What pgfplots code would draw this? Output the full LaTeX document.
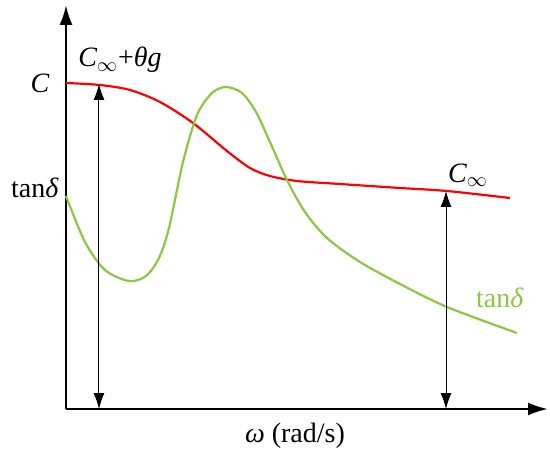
\documentclass[border=0pt]{standalone}
\usepackage{fontspec}
\setmainfont{Liberation Serif}
\usepackage{pgfplots}
\pgfplotsset{compat=1.18}
\usetikzlibrary{arrows.meta}

\definecolor{cred}{RGB}{255,0,0}
\definecolor{cgreen}{RGB}{140,200,64}

\begin{document}
\begin{tikzpicture}
\begin{axis}[
  scale only axis,
  width=241pt, height=202pt,
  xmin=66, xmax=548,
  ymin=41, ymax=445,
  enlargelimits=false,
  axis lines=left,
  ticks=none,
  clip=false,
  axis line style={line width=1.2pt},
  every outer x axis line/.append style={-{Latex[length=10pt,width=6.5pt]}},
  every outer y axis line/.append style={-{Latex[length=10pt,width=6.5pt]}},
  font=\fontsize{14}{16}\selectfont,
]
  % C(omega)
  \addplot[cred, line width=1.1pt, smooth] coordinates {
    (66,367) (100,365) (130,360) (160,348) (193,327) (227,299)
    (250,282) (270,274) (297,269) (340,266) (400,262) (447,259)
    (510,252)
  };
  % tan delta
  \addplot[cgreen, line width=1.1pt, smooth] coordinates {
    (66,254) (85,208) (105,180) (129,169) (146,174) (159,192)
    (169,222) (183,288) (197,335) (212,357) (226,363) (242,357)
    (256,338) (270,308) (287,270) (305,238) (327,212) (360,188)
    (400,166) (447,143) (517,117)
  };
  % double arrows
  \addplot[black, line width=0.5pt, {Latex[length=8pt,width=5.5pt]}-{Latex[length=8pt,width=5.5pt]}]
    coordinates {(99,366) (99,41)};
  \addplot[black, line width=0.5pt, {Latex[length=8pt,width=5.5pt]}-{Latex[length=8pt,width=5.5pt]}]
    coordinates {(446,259) (446,41)};

  \node at (axis cs:40,367) {\textit{C}};
  \node at (axis cs:120,390) {\textit{C}$_{\infty}$+\textit{θg}};
  \node at (axis cs:35,262) {tan\textit{δ}};
  \node at (axis cs:468,275) {\textit{C}$_{\infty}$};
  \node[text=cgreen] at (axis cs:500,152) {tan\textit{δ}};
  \node at (axis cs:295,14) {\textit{ω} (rad/s)};

  \path (axis cs:0,0) rectangle (axis cs:550,450);
\end{axis}
\end{tikzpicture}
\end{document}
